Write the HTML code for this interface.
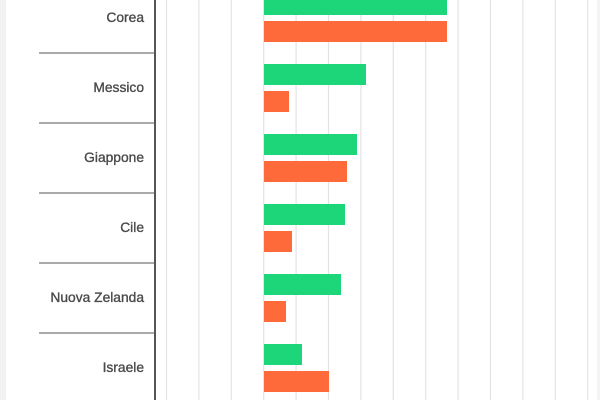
<!DOCTYPE html>
<html><head><meta charset="utf-8"><style>
html,body{margin:0;padding:0;background:#fff;width:600px;height:400px;overflow:hidden}
</style></head><body>
<svg width="600" height="400" xmlns="http://www.w3.org/2000/svg" style="display:block">
<rect x="0" y="0" width="600" height="400" fill="#fff"/>
<rect x="0" y="0" width="6" height="400" fill="#f2f2f2"/>
<rect x="597" y="0" width="3" height="400" fill="#f4f4f4"/>
<g stroke="#e3e3e3" stroke-width="1.2">
<line x1="166.5" y1="0" x2="166.5" y2="400"/><line x1="198.9" y1="0" x2="198.9" y2="400"/><line x1="231.3" y1="0" x2="231.3" y2="400"/><line x1="263.7" y1="0" x2="263.7" y2="400"/><line x1="296.1" y1="0" x2="296.1" y2="400"/><line x1="328.5" y1="0" x2="328.5" y2="400"/><line x1="360.9" y1="0" x2="360.9" y2="400"/><line x1="393.3" y1="0" x2="393.3" y2="400"/><line x1="425.7" y1="0" x2="425.7" y2="400"/><line x1="458.1" y1="0" x2="458.1" y2="400"/><line x1="490.5" y1="0" x2="490.5" y2="400"/><line x1="522.9" y1="0" x2="522.9" y2="400"/><line x1="555.3" y1="0" x2="555.3" y2="400"/><line x1="587.7" y1="0" x2="587.7" y2="400"/>
</g>
<g stroke="#777" stroke-width="1.3">
<line x1="39" y1="53" x2="155" y2="53"/><line x1="39" y1="123" x2="155" y2="123"/><line x1="39" y1="193" x2="155" y2="193"/><line x1="39" y1="263" x2="155" y2="263"/><line x1="39" y1="333" x2="155" y2="333"/>
</g>
<line x1="155" y1="0" x2="155" y2="400" stroke="#555" stroke-width="2"/>
<g fill="#1ed67a">
<rect x="264" y="-6" width="183" height="21"/>
<rect x="264" y="64" width="102" height="21"/>
<rect x="264" y="134" width="93" height="21"/>
<rect x="264" y="204" width="81" height="21"/>
<rect x="264" y="274" width="77" height="21"/>
<rect x="264" y="344" width="38" height="21"/>
</g>
<g fill="#ff6a3a">
<rect x="264" y="21" width="183" height="21"/>
<rect x="264" y="91" width="25" height="21"/>
<rect x="264" y="161" width="83" height="21"/>
<rect x="264" y="231" width="28" height="21"/>
<rect x="264" y="301" width="22" height="21"/>
<rect x="264" y="371" width="65" height="21"/>
</g>
<g font-family="Liberation Sans, sans-serif" font-size="13.8" fill="#4a4a4a" stroke="#4a4a4a" stroke-width="0.35" text-anchor="end">
<text x="144" y="22">Corea</text>
<text x="144" y="92">Messico</text>
<text x="144" y="162">Giappone</text>
<text x="144" y="232">Cile</text>
<text x="144" y="302">Nuova Zelanda</text>
<text x="144" y="372">Israele</text>
</g>
</svg>
</body></html>
